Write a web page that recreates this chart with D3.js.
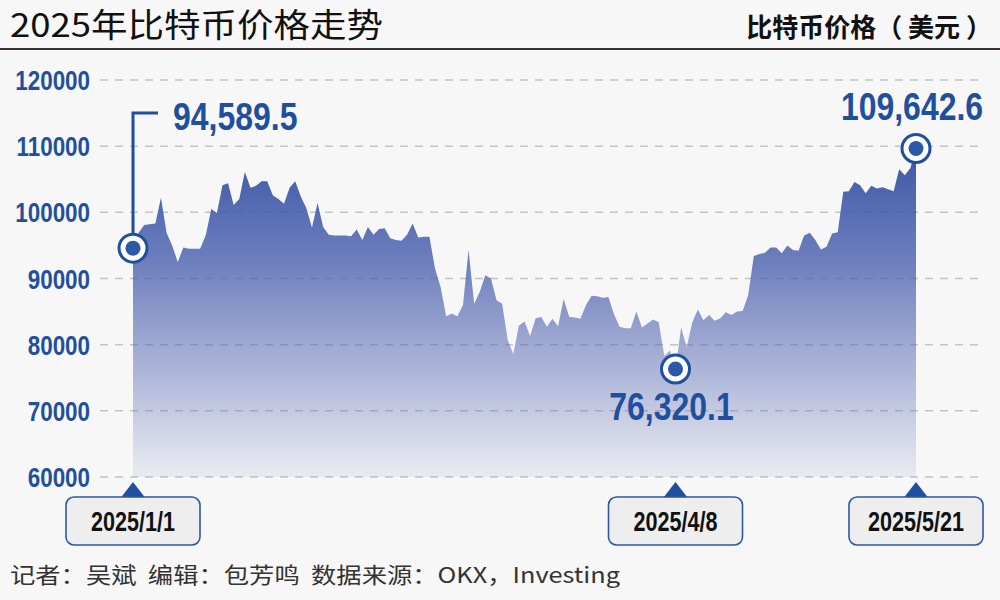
<!DOCTYPE html>
<html>
<head>
<meta charset="utf-8">
<script src="https://cdn.jsdelivr.net/npm/d3@7"></script>
<style>
  html, body { margin: 0; padding: 0; background: #f7f7f7; }
  svg { display: block; }
</style>
</head>
<body>
<svg id="chart" width="1000" height="600"></svg>
<script>
// ---------- DATA ----------
const startDate = "2025-01-01";
const janPrices = [94589.5, 96900, 98100, 98200, 98300, 102200, 96900, 95000, 92500, 94700,
  94500, 94500, 94500, 96500, 100500, 99900, 104100, 104400, 101100, 102000,
  106100, 103700, 104000, 104700, 104700, 102600, 102000, 101300, 103700, 104700, 102400];
const febPrices = [100600, 97700, 101400, 97800, 96600, 96500, 96500, 96500, 96400, 97400,
  95800, 97800, 96600, 97500, 97600, 96100, 95800, 95700, 96600, 98300,
  96200, 96300, 96300, 91500, 88700, 84300, 84700, 84300];
const marPrices = [86000, 94300, 86200, 88000, 90500, 90000, 86700, 86200, 80700, 78600,
  82900, 83500, 81300, 84000, 84200, 82700, 83900, 82800, 86900, 84200,
  84100, 83900, 86000, 87400, 87300, 87100, 87200, 84600, 82700, 82500, 82500];
const aprPrices = [85000, 82600, 83200, 83800, 83400, 78300, 79100, 76320.1, 82600, 79600,
  83400, 85300, 83700, 84500, 83600, 84000, 84900, 84500, 85000, 85100,
  87500, 93400, 93700, 93900, 94700, 94700, 93800, 95000, 94300, 94200];
const mayPrices = [96500, 96900, 95800, 94400, 94800, 96800, 97000, 103100, 103200, 104600,
  104100, 102900, 104000, 103600, 103800, 103500, 103200, 106500, 105600, 106700, 109642.6];

const yTicks = [60000, 70000, 80000, 90000, 100000, 110000, 120000];
const markedDates = ["2025-01-01", "2025-04-08", "2025-05-21"];
const markedDateLabels = ["2025/1/1", "2025/4/8", "2025/5/21"];
const markedValues = [94589.5, 76320.1, 109642.6];
const markedValueLabels = ["94,589.5", "76,320.1", "109,642.6"];

const titleText = "2025年比特币价格走势";
const unitText = "比特币价格（ 美元 ）";
const footerText = "记者：吴斌  编辑：包芳鸣  数据来源：OKX，Investing";

// ---------- BUILD ----------
const parse = d3.timeParse("%Y-%m-%d");
const allPrices = [].concat(janPrices, febPrices, marPrices, aprPrices, mayPrices);
const t0 = parse(startDate);
const data = allPrices.map((v, i) => ({ date: d3.timeDay.offset(t0, i), value: v }));

const BLUE = "#1f4f9f";
const svg = d3.select("#chart");

svg.append("rect").attr("width", 1000).attr("height", 600).attr("fill", "#f7f7f7");

const x = d3.scaleTime().domain([parse("2025-01-01"), parse("2025-05-21")]).range([133, 916]);
const y = d3.scaleLinear().domain([60000, 120000]).range([477, 80]);

// Title
svg.append("text")
  .attr("x", 10).attr("y", 37)
  .attr("font-family", "'Noto Sans CJK SC', sans-serif")
  .attr("font-size", 33).attr("font-weight", 400)
  .attr("fill", "#111")
  .attr("textLength", 373).attr("lengthAdjust", "spacingAndGlyphs")
  .text(titleText);

svg.append("text")
  .attr("x", 992).attr("y", 37)
  .attr("text-anchor", "end")
  .attr("font-family", "'Noto Sans CJK SC', sans-serif")
  .attr("font-size", 26).attr("font-weight", 700)
  .attr("fill", "#111")
  .text(unitText);

svg.append("line")
  .attr("x1", 0).attr("x2", 1000).attr("y1", 49).attr("y2", 49)
  .attr("stroke", "#3b3232").attr("stroke-width", 2);

// condensed text helper
function ctext(parent, px, py, str, opts) {
  const g = parent.append("g")
    .attr("transform", `translate(${px},${py}) scale(${opts.sx || 0.8},1)`);
  g.append("text")
    .attr("text-anchor", opts.anchor || "start")
    .attr("font-family", "'Liberation Sans', Arial, sans-serif")
    .attr("font-weight", 700)
    .attr("font-size", opts.size)
    .attr("fill", opts.fill)
    .text(str);
  return g;
}

// Grid lines
const grid = svg.append("g");
grid.selectAll("line").data(yTicks).join("line")
  .attr("x1", 100).attr("x2", 985)
  .attr("y1", d => y(d)).attr("y2", d => y(d))
  .attr("stroke", "#c4c4c4").attr("stroke-width", 1.5)
  .attr("stroke-dasharray", "8,7");

// Y labels
const yl = svg.append("g");
yTicks.forEach(t => ctext(yl, 90, y(t) + 10, String(t), { size: 28, anchor: "end", fill: BLUE, sx: 0.8 }));

// Area gradient
const defs = svg.append("defs");
const grad = defs.append("linearGradient")
  .attr("id", "areaGrad")
  .attr("gradientUnits", "userSpaceOnUse")
  .attr("x1", 0).attr("x2", 0)
  .attr("y1", y(110000)).attr("y2", y(60000));
grad.append("stop").attr("offset", "0%").attr("stop-color", "#3a55a6").attr("stop-opacity", 1);
grad.append("stop").attr("offset", "35%").attr("stop-color", "#4a60ae").attr("stop-opacity", 0.8);
grad.append("stop").attr("offset", "70%").attr("stop-color", "#5a6cb6").attr("stop-opacity", 0.45);
grad.append("stop").attr("offset", "100%").attr("stop-color", "#6a78bc").attr("stop-opacity", 0.1);

const area = d3.area()
  .x(d => x(d.date))
  .y0(y(60000))
  .y1(d => y(d.value))
  .curve(d3.curveLinear);

svg.append("path")
  .datum(data)
  .attr("d", area)
  .attr("fill", "url(#areaGrad)");

// Leader line for first annotation
const p0x = x(parse(markedDates[0])), p0y = y(markedValues[0]);
svg.append("path")
  .attr("d", d3.line()([[p0x, p0y], [p0x, 113], [158, 113]]))
  .attr("fill", "none").attr("stroke", BLUE).attr("stroke-width", 3);

// Markers
const marks = markedDates.map((d, i) => ({ date: parse(d), value: markedValues[i], label: markedValueLabels[i], dl: markedDateLabels[i] }));
const mg = svg.append("g");
mg.selectAll("circle.outer").data(marks).join("circle")
  .attr("class", "outer")
  .attr("cx", d => x(d.date)).attr("cy", d => y(d.value)).attr("r", 14)
  .attr("fill", "#fff").attr("stroke", BLUE).attr("stroke-width", 3);
mg.selectAll("circle.inner").data(marks).join("circle")
  .attr("class", "inner")
  .attr("cx", d => x(d.date)).attr("cy", d => y(d.value)).attr("r", 7.5)
  .attr("fill", "#2c58a8");

// Value labels
ctext(svg, 173, 130, marks[0].label, { size: 39, anchor: "start", fill: BLUE, sx: 0.82 });
ctext(svg, x(marks[1].date) - 4, 420, marks[1].label, { size: 39, anchor: "middle", fill: BLUE, sx: 0.82 });
ctext(svg, x(marks[2].date) - 4, 120, marks[2].label, { size: 39, anchor: "middle", fill: BLUE, sx: 0.82 });

// Date boxes
const bg = svg.append("g");
marks.forEach(m => {
  const cx = x(m.date);
  bg.append("path")
    .attr("d", `M${cx},482 L${cx - 12},497.5 L${cx + 12},497.5 Z`)
    .attr("fill", BLUE);
  bg.append("rect")
    .attr("x", cx - 67).attr("y", 497).attr("width", 134).attr("height", 48)
    .attr("rx", 8).attr("ry", 8)
    .attr("fill", "#eeeeee").attr("stroke", "#2d58a5").attr("stroke-width", 1.6);
  ctext(bg, cx, 531, m.dl, { size: 27, anchor: "middle", fill: "#111", sx: 0.8 });
});

// Footer
svg.append("text")
  .attr("x", 10).attr("y", 583)
  .attr("font-family", "'Noto Sans CJK SC', sans-serif")
  .attr("font-size", 22)
  .attr("fill", "#333")
  .style("white-space", "pre")
  .attr("textLength", 610).attr("lengthAdjust", "spacingAndGlyphs")
  .text(footerText);
</script>
</body>
</html>
